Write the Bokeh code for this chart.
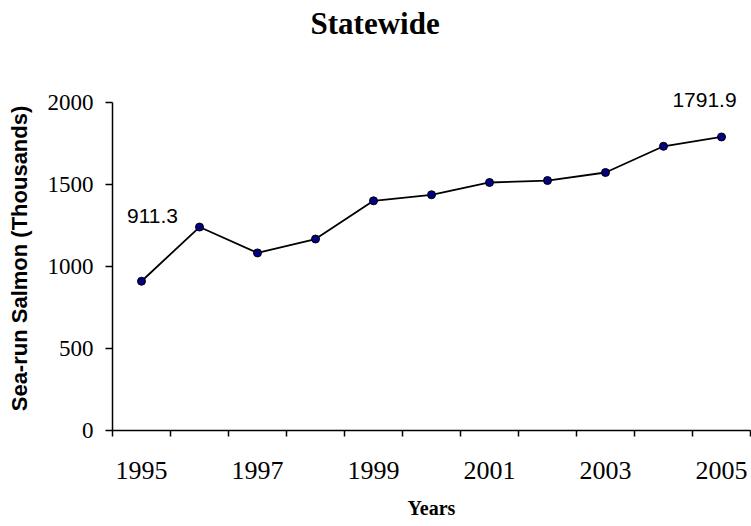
from bokeh.plotting import figure
from bokeh.models import Range1d, FixedTicker, Label, Title
from bokeh.embed import file_html
from bokeh.resources import INLINE

# ---- data ----
years = [1995, 1996, 1997, 1998, 1999, 2000, 2001, 2002, 2003, 2004, 2005]
salmon = [911.3, 1242, 1084, 1169, 1402, 1439, 1514, 1526, 1575, 1735, 1791.9]
x_tick_labels = [1995, 1997, 1999, 2001, 2003, 2005]
y_ticks = [0, 500, 1000, 1500, 2000]
first_label = "911.3"
last_label = "1791.9"

SERIF = "Liberation Serif"
SANS = "Liberation Sans"

# headroom above the 2000 axis end so the end-point label is not clipped
Y_HEADROOM = 2100

p = figure(width=751, height=526, output_backend="svg", toolbar_location=None,
           x_range=Range1d(years[0] - 0.5, years[-1] + 0.5),
           y_range=Range1d(y_ticks[0], Y_HEADROOM),
           min_border_left=112, min_border_right=1, min_border_top=0, min_border_bottom=96)

# empty spacer between the title and the plot area
p.add_layout(Title(text=" ", text_font_size="10px", standoff=30), "above")

p.title.text = "Statewide"
p.title.align = "left"
p.title.offset = 198
p.title.standoff = 6
p.title.text_font = SERIF
p.title.text_font_size = "31px"
p.title.text_font_style = "bold"
p.title.text_color = "black"

p.grid.visible = False
p.outline_line_color = None
p.background_fill_color = "white"
p.border_fill_color = "white"

boundaries = [y - 0.5 for y in years] + [years[-1] + 0.5]
p.xaxis.ticker = FixedTicker(ticks=x_tick_labels, minor_ticks=boundaries)
p.xaxis.major_tick_out = 0
p.xaxis.major_tick_in = 0
p.xaxis.minor_tick_out = 6
p.xaxis.minor_tick_in = 0
p.xaxis.minor_tick_line_color = "black"
p.xaxis.minor_tick_line_width = 1.5
p.xaxis.major_label_standoff = 25
p.xaxis.major_label_text_font = SERIF
p.xaxis.major_label_text_font_size = "26px"
p.xaxis.major_label_text_color = "black"
p.xaxis.axis_label = "Years"
p.xaxis.axis_label_text_font = SERIF
p.xaxis.axis_label_text_font_size = "20px"
p.xaxis.axis_label_text_font_style = "bold"
p.xaxis.axis_label_text_color = "black"
p.xaxis.axis_label_standoff = 15

p.yaxis.ticker = FixedTicker(ticks=y_ticks)
p.yaxis.bounds = (y_ticks[0], y_ticks[-1])
p.yaxis.major_tick_out = 7
p.yaxis.major_tick_in = 0
p.yaxis.minor_tick_out = 0
p.yaxis.minor_tick_in = 0
p.yaxis.major_tick_line_color = "black"
p.yaxis.major_tick_line_width = 1.5
p.yaxis.major_label_standoff = 12
p.yaxis.major_label_text_font = SERIF
p.yaxis.major_label_text_font_size = "23px"
p.yaxis.major_label_text_color = "black"
p.yaxis.axis_label = "Sea-run Salmon (Thousands)"
p.yaxis.axis_label_text_font = SANS
p.yaxis.axis_label_text_font_size = "22px"
p.yaxis.axis_label_text_font_style = "bold"
p.yaxis.axis_label_text_color = "black"
p.yaxis.axis_label_standoff = 13

for ax in (p.xaxis, p.yaxis):
    ax.axis_line_color = "black"
    ax.axis_line_width = 1.5

p.line(years, salmon, line_color="black", line_width=1.8)
p.scatter(years, salmon, size=8, fill_color="#000080", line_color="black", line_width=1)

p.add_layout(Label(x=years[0], y=salmon[0], text=first_label, x_offset=11, y_offset=65,
                   text_align="center", text_baseline="middle", text_font=SANS,
                   text_font_size="21px", text_color="black"))
p.add_layout(Label(x=years[-1], y=salmon[-1], text=last_label, x_offset=-17, y_offset=37,
                   text_align="center", text_baseline="middle", text_font=SANS,
                   text_font_size="21px", text_color="black"))

open("out.html", "w").write(file_html(p, INLINE))
